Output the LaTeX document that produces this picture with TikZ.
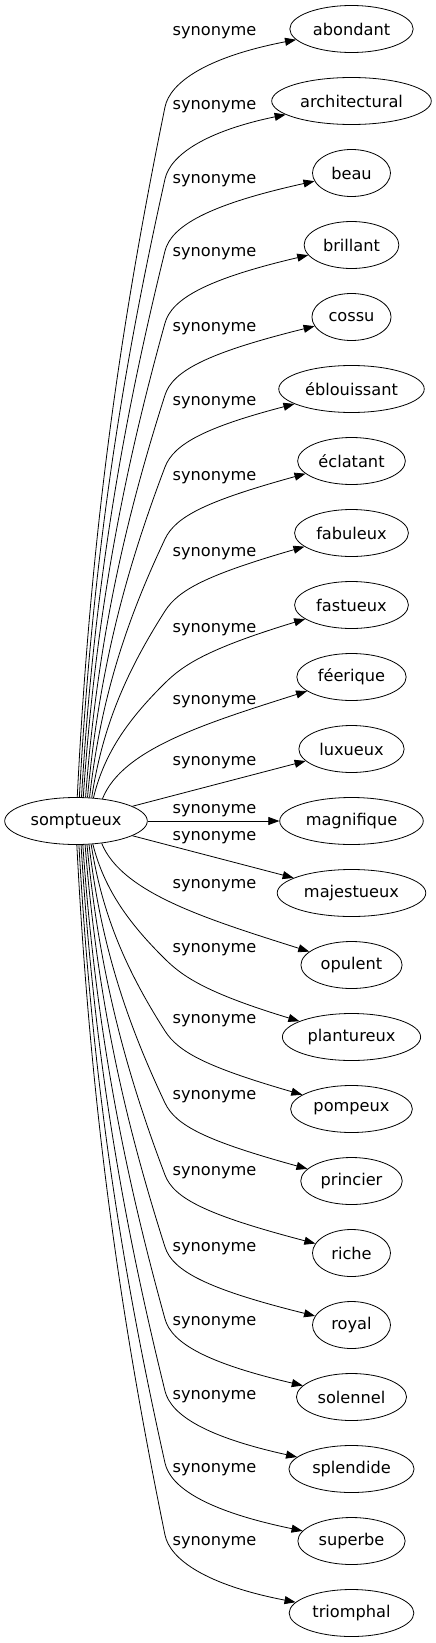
\documentclass[tikz,border=0pt]{standalone}
\usepackage{fontspec}
\setmainfont{DejaVu Sans}
\usepackage{tikz}
\usetikzlibrary{shapes.geometric, arrows.meta, calc}

\tikzset{
    synnode/.style={draw, ellipse, line width=0.8pt, inner xsep=5pt, inner ysep=0pt, minimum height=47pt, minimum width=78pt},
    synlabel/.style={inner sep=0pt},
    synedge/.style={line width=0.8pt, -{Triangle[length=11pt, width=8pt]}}
}

\begin{document}
\begin{tikzpicture}[x=1pt, y=-1pt, font=\fontsize{16.2pt}{19pt}\selectfont]
    \useasboundingbox (0,0) rectangle (436,1643);

    % Source word
    \node[synnode] (root) at (76,821) {somptueux};

    % Synonyms, edge labels and connectors
    \foreach \nm/\txt/\ly [count=\i from 0] in {
        abondant/abondant/33, architectural/architectural/107, beau/beau/181,
        brillant/brillant/254, cossu/cossu/329, eblouissant/éblouissant/403,
        eclatant/éclatant/478, fabuleux/fabuleux/554, fastueux/fastueux/630,
        feerique/féerique/702, luxueux/luxueux/763, magnifique/magnifique/811,
        majestueux/majestueux/838, opulent/opulent/886, plantureux/plantureux/950,
        pompeux/pompeux/1021, princier/princier/1097, riche/riche/1173,
        royal/royal/1249, solennel/solennel/1323, splendide/splendide/1397,
        superbe/superbe/1470, triomphal/triomphal/1543}{
        \node[synnode] (\nm) at (351.5,{29+72*\i}) {\txt};
        \node[synlabel] (lbl-\nm) at (214.5,\ly) {synonyme};
        \ifnum\i<9
            % upper fan: steep rise, then a knee left of the labels
            \pgfmathtruncatemacro\soff{1+2*\i}
            \pgfmathtruncatemacro\sang{atan2(23.5*sqrt(1-(\soff/72.7)^2),\soff)}
            \pgfmathsetmacro\ky{107+72*\i}
            \pgfmathsetmacro\dd{797-\ky}
            \pgfmathsetmacro\dx{1.6*(165-76-\soff)}
            \pgfmathsetmacro\tl{100*veclen(\dx/100,\dd/100)}
            \pgfmathsetmacro\ux{25*(\dx/\tl)}
            \pgfmathsetmacro\uy{25*(\dd/\tl)}
            \draw[synedge] (root.\sang) .. controls ({76+\soff+0.1*\dx},{797-0.4*\dd}) and ({165-0.3*\dx},{\ky+0.3*\dd}) .. (165,\ky)
                .. controls ({165+\ux},{\ky-\uy}) and ($(\nm)+(-145,{28+2*\i})$) .. (\nm);
        \else\ifnum\i=9
            \pgfmathtruncatemacro\sang{atan2(23.5*sqrt(1-(26/72.7)^2),26)}
            \draw[synedge] (root.\sang) .. controls (122,{101+72*\i}) and ($(\nm)+(-145,46)$) .. (\nm);
        \else\ifnum\i>13
            % lower fan, mirrored
            \pgfmathtruncatemacro\kk{22-\i}
            \pgfmathtruncatemacro\soff{1+2*\kk}
            \pgfmathtruncatemacro\sang{360-atan2(23.5*sqrt(1-(\soff/72.7)^2),\soff)}
            \pgfmathsetmacro\ky{72*\i-49}
            \pgfmathsetmacro\dd{\ky-845}
            \pgfmathsetmacro\dx{1.6*(165-76-\soff)}
            \pgfmathsetmacro\tl{100*veclen(\dx/100,\dd/100)}
            \pgfmathsetmacro\ux{25*(\dx/\tl)}
            \pgfmathsetmacro\uy{25*(\dd/\tl)}
            \draw[synedge] (root.\sang) .. controls ({76+\soff+0.1*\dx},{845+0.4*\dd}) and ({165-0.3*\dx},{\ky-0.3*\dd}) .. (165,\ky)
                .. controls ({165+\ux},{\ky+\uy}) and ($(\nm)+(-145,{-28-2*\kk})$) .. (\nm);
        \else\ifnum\i=13
            \pgfmathtruncatemacro\sang{360-atan2(23.5*sqrt(1-(26/72.7)^2),26)}
            \draw[synedge] (root.\sang) .. controls (122,{-43+72*\i}) and ($(\nm)+(-145,-46)$) .. (\nm);
        \else
            \draw[synedge] (root) -- (\nm);
        \fi\fi\fi\fi
    }
\end{tikzpicture}
\end{document}
